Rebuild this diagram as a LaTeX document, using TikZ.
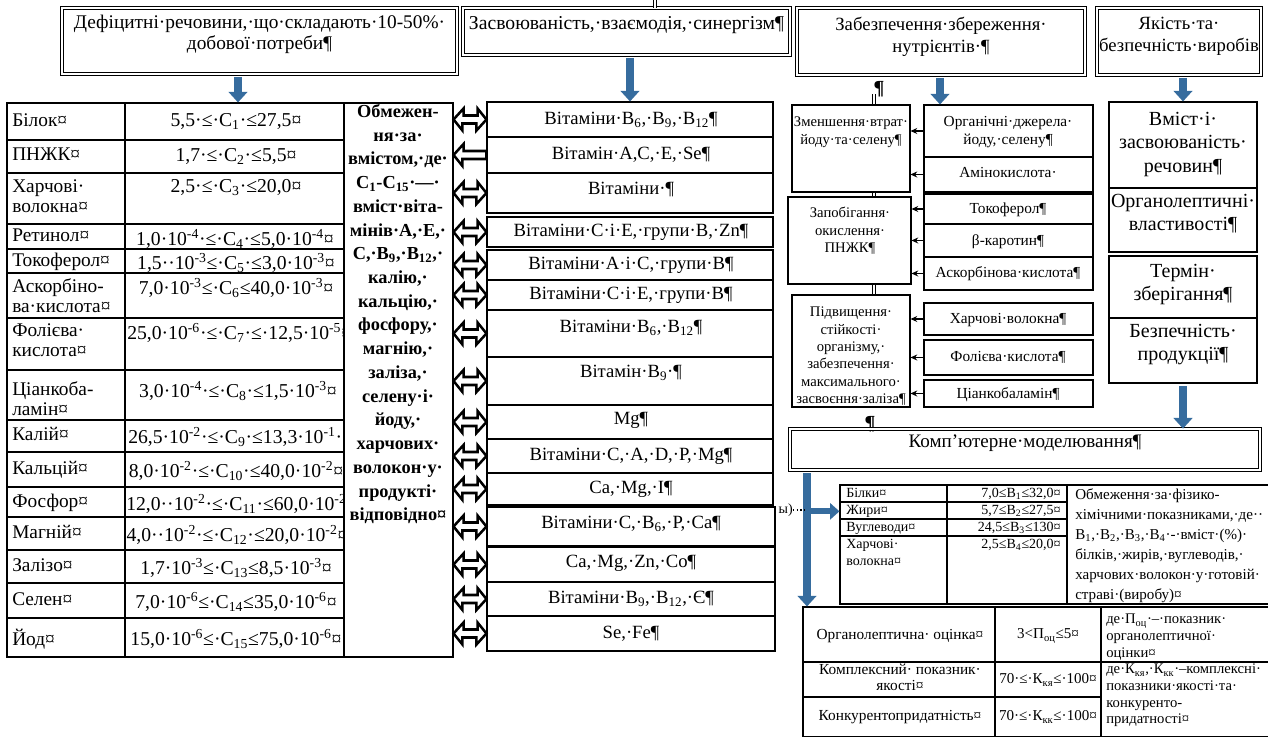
\documentclass[tikz,border=0pt]{standalone}
\usepackage{fontspec}
\setmainfont{Liberation Serif}
\usetikzlibrary{arrows.meta,calc,fit}
\definecolor{arrblue}{RGB}{54,108,158}
\newcommand\mysub[1]{\textsubscript{#1}}
\newcommand\mysup[1]{\textsuperscript{#1}}
\newcommand\fsz[2]{\fontsize{#1}{#2}\selectfont}
% frame fitted to two corners: [style]{name}{x1}{y1}{x2}{y2}{text}
\newcommand\frm[7][]{\node[cellb,#1,fit={(#3,#4)(#5,#6)}] (#2) {#7};}

\begin{document}
\begin{tikzpicture}[x=0.75pt,y=-0.75pt,
  cellb/.style={draw,line width=0.8pt,inner sep=0pt},
  hdr/.style={double,double distance=1.6pt,line width=0.6pt,align=center,font=\fsz{14.5}{16}},
  rule/.style={line width=0.8pt},
  tl/.style={inner sep=0pt,align=left,font=\fsz{14.5}{15}},
  tv/.style={inner sep=0pt,font=\fsz{14.75}{15}},
  limf/.style={inner sep=0pt,align=center,font=\bfseries\fsz{13.75}{17.8}},
  midt/.style={inner sep=0pt,font=\fsz{14}{15}},
  c3t/.style={inner sep=0pt,align=center,font=\fsz{11}{13}},
  c3r/.style={inner sep=0pt,align=center,font=\fsz{11.5}{13.5}},
  c4t/.style={inner sep=0pt,align=center,font=\fsz{15}{17.6}},
  ntx/.style={inner sep=0pt,align=left,font=\fsz{10.5}{13}},
  ndx/.style={inner sep=0pt,align=left,font=\fsz{11.3}{15}},
  btt/.style={inner sep=0pt,align=center,font=\fsz{11.5}{12}},
  btv/.style={inner sep=0pt,align=center,font=\fsz{11.3}{12}},
  btl/.style={inner sep=0pt,align=left,font=\fsz{11}{12.5}},
  bluearr/.style={draw=arrblue,line width=5.5pt,-{Triangle[length=8pt,width=14pt]},shorten <=2pt},
  dblar/.style={draw,fill=white,line width=1.9pt,line join=miter},
  sarr/.style={line width=0.8pt,-{Stealth[length=5pt,width=4.5pt]}},
  vdbl/.style={double,double distance=1.4pt,line width=0.5pt},
  pil/.style={inner sep=0pt,font=\bfseries\fsz{15}{16}}
]
\useasboundingbox (0,0) rectangle (1268,737);

% ---------- headers ----------
\frm[hdr]{h1}{62}{8}{457}{74}{Дефіцитні·речовини,·що·складають·10-50\%·\\добової·потреби¶}
\frm[hdr,font=\fsz{14.75}{16}]{h2}{463}{8}{790}{55}{Засвоюваність,·взаємодія,·синергізм¶}
\frm[hdr]{h3}{797}{8}{1085}{75}{}
\frm[hdr]{h4}{1097}{8}{1261}{75}{}
\node[c4t,font=\fsz{14}{16.5},anchor=north] (h3t) at (941,17) {Забезпечення·збереження·\\нутрієнтів·¶};
\node[c4t,font=\fsz{14}{16.5},anchor=north] (h4t) at (1179,17) {Якість·та·\\безпечність·виробів};
\draw[vdbl] ($(h2.north)+(28.5,-8)$) -- ($(h2.north)+(28.5,0)$);

% ---------- table of content limits ----------
\node[cellb,fit={(7,103)(344,657)}] (tab) {};
\draw[rule] (125,103) -- (125,657);
\foreach \y in {140,173,224,249,273,318,370,420,452,487,517,550,583,618}
  \draw[rule] (7,\y) -- (344,\y);

\node[tl,anchor=north west] (n1) at (12,113) {Білок¤};
\node[tl,anchor=north west] (n2) at (12,148) {ПНЖК¤};
\node[tl,anchor=north west] (n3) at (12,179) {Харчові·\\волокна¤};
\node[tl,anchor=north west] (n4) at (12,229) {Ретинол¤};
\node[tl,anchor=north west] (n5) at (12,253) {Токоферол¤};
\node[tl,anchor=north west] (n6) at (12,278) {Аскорбіно-\\ва·кислота¤};
\node[tl,anchor=north west] (n7) at (12,323) {Фолієва·\\кислота¤};
\node[tl,anchor=north west] (n8) at (12,381) {Ціанкоба-\\ламін¤};
\node[tl,anchor=north west] (n9) at (12,427) {Калій¤};
\node[tl,anchor=north west] (n10) at (12,461) {Кальцій¤};
\node[tl,anchor=north west] (n11) at (12,494) {Фосфор¤};
\node[tl,anchor=north west] (n12) at (12,525) {Магній¤};
\node[tl,anchor=north west] (n13) at (12,558) {Залізо¤};
\node[tl,anchor=north west] (n14) at (12,592) {Селен¤};
\node[tl,anchor=north west] (n15) at (12,629) {Йод¤};

\begin{scope}
\clip (125,103) rectangle (344,657);
\node[tv,anchor=north] (v1) at (236,113) {5,5·≤·C\mysub{1}·≤27,5¤};
\node[tv,anchor=north] (v2) at (236,148) {1,7·≤·C\mysub{2}·≤5,5¤};
\node[tv,anchor=north] (v3) at (236,179) {2,5·≤·C\mysub{3}·≤20,0¤};
\node[tv,anchor=north] (v4) at (235,229) {1,0·10\mysup{-4}·≤·C\mysub{4}·≤5,0·10\mysup{-4}¤};
\node[tv,anchor=north] (v5) at (236,253) {1,5··10\mysup{-3}≤·C\mysub{5}·≤3,0·10\mysup{-3}¤};
\node[tv,anchor=north] (v6) at (236,278) {7,0·10\mysup{-3}≤·C\mysub{6}≤40,0·10\mysup{-3}¤};
\node[tv,anchor=north west] (v7) at (127,323) {25,0·10\mysup{-6}·≤·C\mysub{7}·≤·12,5·10\mysup{-5}¤};
\node[tv,anchor=north] (v8) at (238,381) {3,0·10\mysup{-4}·≤·C\mysub{8}·≤1,5·10\mysup{-3}¤};
\node[tv,anchor=north west] (v9) at (128,427) {26,5·10\mysup{-2}·≤·C\mysub{9}·≤13,3·10\mysup{-1}··};
\node[tv,anchor=north] (v10) at (236,461) {8,0·10\mysup{-2}·≤·C\mysub{10}·≤40,0·10\mysup{-2}¤};
\node[tv,anchor=north west] (v11) at (126,494) {12,0··10\mysup{-2}·≤·C\mysub{11}·≤60,0·10\mysup{-2}};
\node[tv,anchor=north] (v12) at (237,525) {4,0··10\mysup{-2}·≤·C\mysub{12}·≤20,0·10\mysup{-2}¤};
\node[tv,anchor=north] (v13) at (236,558) {1,7·10\mysup{-3}≤·C\mysub{13}≤8,5·10\mysup{-3}¤};
\node[tv,anchor=north] (v14) at (236,592) {7,0·10\mysup{-6}≤·C\mysub{14}≤35,0·10\mysup{-6}¤};
\node[tv,anchor=north] (v15) at (236,629) {15,0·10\mysup{-6}≤·C\mysub{15}≤75,0·10\mysup{-6}¤};
\end{scope}

% ---------- limits column ----------
\node[cellb,fit={(344,103)(453,657)}] (lim) {};
\node[limf,anchor=north] (limt) at (398,104) {Обмежен-\\ня·за·\\вмістом,·де·\\C\mysub{1}-C\mysub{15}·—·\\вміст·віта-\\мінів·А,·Е,·\\С,·В\mysub{9},·В\mysub{12},·\\калію,·\\кальцію,·\\фосфору,·\\магнію,·\\заліза,·\\селену·і·\\йоду,·\\харчових·\\волокон·у·\\продукті·\\відповідно¤};

% ---------- interaction boxes ----------
\frm{m1}{487}{102}{773}{137}{}
\frm{m2}{487}{137}{773}{173}{}
\frm{m3}{487}{173}{773}{213}{}
\frm{m4}{487}{217}{773}{247}{}
\frm{m5}{487}{250}{773}{280}{}
\frm{m6}{487}{280}{773}{310}{}
\frm{m7}{487}{310}{773}{357}{}
\frm{m8}{487}{357}{773}{405}{}
\frm{m9}{487}{405}{773}{439}{}
\frm{m10}{487}{439}{773}{473}{}
\frm{m11}{487}{473}{773}{505}{}
\frm{m12}{487}{507}{775}{546}{}
\frm{m13}{487}{547}{775}{582}{}
\frm{m14}{487}{582}{775}{616}{}
\frm{m15}{487}{616}{775}{651}{}
\node[midt,anchor=base] (mt1) at (631,125) {Вітаміни·В\mysub{6},·В\mysub{9},·В\mysub{12}¶};
\node[midt,anchor=base] (mt2) at (631,160) {Вітамін·А,С,·Е,·Se¶};
\node[midt,anchor=base] (mt3) at (631,195) {Вітаміни·¶};
\node[midt,anchor=base] (mt4) at (631,237) {Вітаміни·С·і·Е,·групи·В,·Zn¶};
\node[midt,anchor=base] (mt5) at (631,270) {Вітаміни·А·і·С,·групи·В¶};
\node[midt,anchor=base] (mt6) at (631,300) {Вітаміни·С·і·Е,·групи·В¶};
\node[midt,anchor=base] (mt7) at (631,333) {Вітаміни·В\mysub{6},·В\mysub{12}¶};
\node[midt,anchor=base] (mt8) at (631,378) {Вітамін·В\mysub{9}·¶};
\node[midt,anchor=base] (mt9) at (631,425) {Mg¶};
\node[midt,anchor=base] (mt10) at (631,461) {Вітаміни·С,·А,·D,·Р,·Mg¶};
\node[midt,anchor=base] (mt11) at (631,494) {Са,·Mg,·І¶};
\node[midt,anchor=base] (mt12) at (631,529) {Вітаміни·С,·В\mysub{6},·Р,·Са¶};
\node[midt,anchor=base] (mt13) at (631,568) {Са,·Mg,·Zn,·Со¶};
\node[midt,anchor=base] (mt14) at (631,604) {Вітаміни·В\mysub{9},·В\mysub{12},·Є¶};
\node[midt,anchor=base] (mt15) at (631,639) {Se,·Fe¶};

% outlined double arrows between the limits column and the boxes
\foreach \k in {1,3,4,...,15}
  \draw[dblar] (lim.east |- m\k.west) -- ++(10,-11) -- ++(0,7) -- ++(14,0) -- ++(0,-7)
    -- (m\k.west) -- ++(-10,11) -- ++(0,-7) -- ++(-14,0) -- ++(0,7) -- cycle;
\draw[dblar] (lim.east |- m2.west) -- ++(10,-11) -- ++(0,7) -- ($(m2.west)+(0,-4)$)
  -- ($(m2.west)+(0,4)$) -- ++(-24,0) -- ++(0,7) -- cycle;

% ---------- nutrient preservation ----------
\frm{z1}{792}{105}{910}{192}{}
\frm{z2}{788}{197}{911}{284}{}
\frm{z3}{792}{295}{910}{407}{}
\node[c3t,anchor=north] (zt1) at (851,117) {Зменшення·втрат·\\йоду·та·селену¶};
\node[c3t,anchor=north] (zt2) at (850,207) {Запобігання·\\окислення·\\ПНЖК¶};
\node[c3t,anchor=north] (zt3) at (851,307) {Підвищення·\\стійкості·\\організму,·\\забезпечення·\\максимального·\\засвоєння·заліза¶};

\frm{r1}{924}{105}{1093}{157}{}
\frm{r2}{924}{157}{1093}{192}{}
\frm{r3}{924}{194}{1093}{224}{}
\frm{r4}{924}{224}{1093}{257}{}
\frm{r5}{924}{257}{1093}{290}{}
\frm{r6}{924}{303}{1093}{335}{}
\frm{r7}{924}{340}{1093}{375}{}
\frm{r8}{924}{380}{1093}{407}{}
\node[c3r,anchor=north] (rt1) at (1008,116) {Органічні·джерела·\\йоду,·селену¶};
\node[c3r,anchor=base] (rt2) at (1008,178) {Амінокислота·};
\node[c3r,anchor=base] (rt3) at (1008,214) {Токоферол¶};
\node[c3r,anchor=base] (rt4) at (1008,246) {β-каротин¶};
\node[c3r,anchor=base] (rt5) at (1008,278) {Аскорбінова·кислота¶};
\node[c3r,anchor=base] (rt6) at (1008,324) {Харчові·волокна¶};
\node[c3r,anchor=base] (rt7) at (1008,362) {Фолієва·кислота¶};
\node[c3r,anchor=base] (rt8) at (1008,399) {Ціанкобаламін¶};

\foreach \r/\z in {r1/z1,r2/z1,r3/z2,r4/z2,r5/z2,r6/z3,r7/z3,r8/z3}
  \draw[sarr] (\r.west) -- (\r.west -| \z.east);

\draw[vdbl] ($(z1.north)+(23,-10)$) -- ($(z1.north)+(23,0)$);
\draw[vdbl] ($(z1.south)+(23,0)$) -- ($(z2.north)+(24.5,0)$);
\draw[vdbl] ($(z2.south)+(24.5,0)$) -- ($(z3.north)+(23,0)$);
\node[pil] (p1) at (879,89) {¶};
\node[pil] (p2) at (870,424) {¶};

% ---------- quality and safety ----------
\frm{q1}{1109}{102}{1257}{188}{}
\frm{q2}{1109}{188}{1257}{252}{}
\frm{q3}{1109}{256}{1257}{318}{}
\frm{q4}{1109}{318}{1257}{383}{}
\node[c4t,anchor=north] (qt1) at (1183,112) {Вміст·і·\\засвоюваність·\\речовин¶};
\node[c4t,anchor=north] (qt2) at (1183,194) {Органолептичні·\\властивості¶};
\node[c4t,anchor=north] (qt3) at (1183,264) {Термін·\\зберігання¶};
\node[c4t,anchor=north] (qt4) at (1183,324) {Безпечність·\\продукції¶};

% ---------- computer modelling ----------
\frm[hdr,font=\fsz{14.3}{16}]{komp}{790}{429}{1260}{470}{Комп'ютерне·моделювання¶}

\frm{nt}{840}{485}{1270}{604}{}
\draw[rule] (947,485) -- (947,604);
\draw[rule] (1067,485) -- (1067,604);
\foreach \y in {502,519,536} \draw[rule] (840,\y) -- (1067,\y);
\node[ntx,anchor=north west] (nn1) at (846,488) {Білки¤};
\node[ntx,anchor=north west] (nn2) at (846,505) {Жири¤};
\node[ntx,anchor=north west] (nn3) at (846,522) {Вуглеводи¤};
\node[ntx,anchor=north west] (nn4) at (846,539) {Харчові·\\волокна¤};
\node[ntx,anchor=north east] (nv1) at (1061,488) {7,0≤B\mysub{1}≤32,0¤};
\node[ntx,anchor=north east] (nv2) at (1061,505) {5,7≤B\mysub{2}≤27,5¤};
\node[ntx,anchor=north east] (nv3) at (1061,522) {24,5≤B\mysub{3}≤130¤};
\node[ntx,anchor=north east] (nv4) at (1061,539) {2,5≤B\mysub{4}≤20,0¤};
\node[ndx,anchor=north west] (nd) at (1075,488) {Обмеження·за·фізико-\\хімічними·показниками,·де··\\B\mysub{1},·B\mysub{2},·B\mysub{3},·B\mysub{4}·-·вміст·(\%)·\\білків,·жирів,·вуглеводів,·\\харчових·волокон·у·готовій·\\страві·(виробу)¤};

\frm{bt}{803}{607}{1270}{737}{}
\draw[rule] (995,607) -- (995,737);
\draw[rule] (1101,607) -- (1101,737);
\draw[rule] (803,662) -- (1270,662);
\draw[rule] (803,697) -- (1101,697);
\node[btt] (b11) at (900,636) {Органолептична· оцінка¤};
\node[btv] (b12) at (1048,636) {3<П\mysub{оц}≤5¤};
\node[btl,anchor=north west] (b13) at (1106,614) {де·П\mysub{оц}·–·показник·\\органолептичної·\\оцінки¤};
\node[btt] (b21) at (900,677) {Комплексний· показник·\\якості¤};
\node[btv] (b22) at (1048,680) {70·≤·К\mysub{кя}≤·100¤};
\node[btt] (b31) at (900,717) {Конкурентопридатність¤};
\node[btv] (b32) at (1048,717) {70·≤·К\mysub{кк}≤·100¤};
\node[btl,anchor=north west] (b23) at (1106,664) {де·К\mysub{кя},·К\mysub{кк}·–комплексні·\\показники·якості·та·\\конкуренто-\\придатності¤};

\node[ntx,anchor=east] (frag) at (793,510) {ы)};

% ---------- blue flow arrows ----------
\coordinate (a1) at (238,0);
\coordinate (a3) at (940,0);
\coordinate (a6) at (807,0);
\draw[bluearr] (a1 |- h1.south) -- (a1 |- tab.north);
\draw[bluearr] (m1.north |- h2.south) -- (m1.north);
\draw[bluearr] (a3 |- h3.south) -- (a3 |- r1.north);
\draw[bluearr] (q1.north |- h4.south) -- (q1.north);
\draw[bluearr] (q4.south) -- (q4.south |- komp.north);
\draw[bluearr] (a6 |- komp.south) -- (a6 |- bt.north);
\draw[dotted,line width=0.8pt] (frag.east) -- (a6 |- frag.east);
\draw[bluearr,line width=4.5pt,-{Triangle[length=7pt,width=12pt]},shorten <=0pt] (a6 |- nn2.west) -- (nt.west |- nn2.west);
\end{tikzpicture}
\end{document}
